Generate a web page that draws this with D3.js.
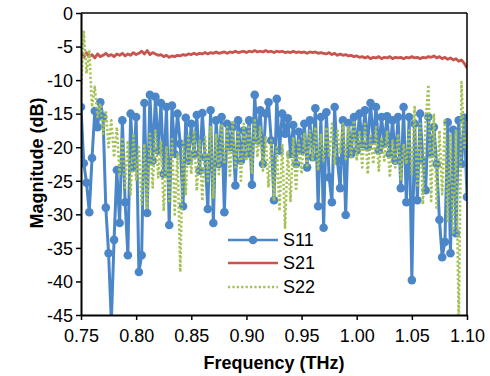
<!DOCTYPE html>
<html><head><meta charset="utf-8">
<script src="https://cdn.jsdelivr.net/npm/d3@7"></script>
<style>
html,body{margin:0;padding:0;background:#fff;}
text{font-family:"Liberation Sans",Arial,sans-serif;}
</style></head>
<body><svg id="chart" width="490" height="376"></svg>
<script>
const xTicks = [0.75, 0.80, 0.85, 0.90, 0.95, 1.00, 1.05, 1.10];
const yTicks = [0, -5, -10, -15, -20, -25, -30, -35, -40, -45];
const seriesNames = ["S11", "S21", "S22"];
const freqStart = 0.75, freqStep = 0.0025;

const s11 = [-14.0,-22.4,-25.3,-29.7,-21.6,-14.6,-17.0,-13.3,-15.5,-29.0,
-35.8,-46.0,-33.8,-23.4,-31.3,-16.0,-28.2,-36.1,-15.0,-23.0,
-15.5,-38.6,-36.1,-13.4,-29.8,-12.2,-22.0,-12.5,-20.5,-13.4,
-24.0,-14.0,-31.6,-13.8,-21.0,-15.0,-19.5,-28.8,-15.6,-22.0,
-16.5,-21.0,-15.2,-23.5,-14.9,-21.5,-29.2,-14.5,-31.3,-16.0,
-22.5,-15.5,-29.7,-16.5,-20.0,-17.0,-25.7,-16.0,-22.0,-17.5,
-21.0,-16.0,-25.6,-12.2,-19.0,-14.5,-22.5,-15.0,-13.3,-19.0,
-27.9,-12.8,-20.5,-15.0,-18.0,-15.7,-21.0,-16.7,-22.5,-17.7,
-20.5,-16.5,-23.0,-16.0,-21.5,-14.2,-28.8,-15.5,-32.0,-14.8,
-24.5,-28.2,-14.0,-22.0,-26.1,-16.0,-30.1,-16.4,-21.0,-15.5,
-20.5,-15.0,-19.5,-14.5,-20.0,-13.4,-19.0,-14.0,-20.5,-15.5,
-19.5,-15.4,-21.0,-16.0,-22.0,-15.5,-26.1,-14.0,-28.2,-15.5,
-39.8,-16.5,-27.9,-15.0,-22.0,-26.4,-15.5,-21.0,-17.0,-22.5,
-30.8,-36.4,-34.1,-16.3,-35.8,-17.4,-32.8,-16.0,-22.5,-15.6,
-27.4];

const s21 = [-6.0,-6.6,-5.9,-6.5,-6.2,-6.7,-6.1,-6.5,-6.3,-6.0,
-6.4,-6.2,-6.5,-6.1,-6.3,-6.0,-6.4,-6.1,-6.3,-5.9,
-6.2,-6.0,-5.7,-6.1,-5.6,-6.2,-5.9,-6.1,-6.3,-6.2,
-6.5,-6.3,-6.6,-6.4,-6.5,-6.3,-6.4,-6.2,-6.3,-6.1,
-6.2,-6.0,-6.2,-6.0,-6.1,-5.9,-6.1,-5.9,-6.0,-5.8,
-6.0,-5.9,-5.8,-6.0,-5.8,-5.9,-5.7,-5.9,-5.8,-5.7,
-5.9,-5.7,-5.8,-5.6,-5.8,-5.7,-5.8,-5.6,-5.8,-5.7,
-5.9,-5.7,-5.8,-5.7,-5.9,-5.8,-5.9,-5.7,-5.9,-5.8,
-5.9,-5.8,-6.0,-5.8,-5.9,-5.8,-6.0,-5.9,-6.0,-6.1,
-5.9,-6.2,-6.0,-6.3,-6.1,-6.3,-6.2,-6.4,-6.3,-6.5,
-6.4,-6.6,-6.5,-6.7,-6.5,-6.8,-6.6,-6.7,-6.5,-6.8,
-6.6,-6.7,-6.5,-6.8,-6.6,-6.7,-6.6,-6.8,-6.6,-6.7,
-6.5,-6.7,-6.6,-6.8,-6.6,-6.7,-6.5,-6.6,-6.4,-6.7,
-6.5,-6.8,-6.6,-6.9,-6.7,-7.0,-6.8,-7.2,-7.0,-7.5,
-8.2];

const s22 = [-12.0,-2.8,-9.0,-5.5,-14.0,-11.0,-15.5,-13.5,-18.0,-14.5,
-20.0,-16.0,-21.5,-17.0,-24.0,-18.5,-26.0,-19.0,-27.0,-18.0,
-25.0,-20.0,-28.5,-19.5,-29.0,-18.0,-26.0,-17.5,-24.5,-19.0,
-29.5,-20.0,-28.0,-18.5,-30.0,-21.0,-38.6,-19.0,-27.0,-18.0,
-24.0,-17.5,-26.5,-19.0,-28.0,-18.5,-25.0,-17.0,-27.5,-18.0,
-24.0,-16.5,-22.5,-17.0,-24.5,-16.0,-23.0,-17.5,-25.0,-16.5,
-22.0,-17.0,-24.0,-16.0,-21.5,-17.0,-23.5,-18.5,-26.0,-19.0,
-28.0,-20.0,-29.5,-19.5,-32.0,-20.5,-28.0,-18.5,-26.5,-19.0,
-24.0,-18.0,-23.0,-17.5,-22.0,-17.0,-23.5,-18.0,-22.0,-17.0,
-21.5,-16.5,-22.5,-17.5,-21.0,-16.5,-22.0,-17.0,-21.5,-16.0,
-22.0,-17.5,-23.0,-16.5,-24.0,-18.0,-22.5,-17.0,-23.5,-18.5,
-22.0,-17.5,-24.5,-19.0,-23.0,-18.0,-25.0,-19.5,-22.5,-17.5,
-24.0,-14.0,-26.0,-16.5,-28.5,-16.0,-10.7,-28.0,-15.0,-29.0,
-17.5,-27.0,-16.0,-31.0,-18.0,-33.0,-17.5,-47.0,-10.3,-20.0,
-18.0];

const colors = {S11:"#4a86c8", S21:"#c9534d", S22:"#a4c254"};

const svg = d3.select("#chart");
const m = {left:81, top:13, right:467, bottom:315};
const x = d3.scaleLinear().domain([0.75,1.10]).range([m.left,m.right]);
const y = d3.scaleLinear().domain([-45,0]).range([m.bottom,m.top]);
const freq = i => freqStart + i*freqStep;

svg.append("defs").append("clipPath").attr("id","clip")
  .append("rect").attr("x",m.left).attr("y",m.top)
  .attr("width",m.right-m.left).attr("height",m.bottom-m.top);

const plot = svg.append("g").attr("clip-path","url(#clip)");
const line = d3.line().x((d,i)=>x(freq(i))).y(d=>y(d));

plot.append("path").datum(s11).attr("d",line).attr("fill","none")
  .attr("stroke",colors.S11).attr("stroke-width",3).attr("stroke-linejoin","round");
plot.append("g").selectAll("circle").data(s11).join("circle")
  .attr("cx",(d,i)=>x(freq(i))).attr("cy",d=>y(d)).attr("r",4.3)
  .attr("fill",colors.S11);
plot.append("path").datum(s21).attr("d",line).attr("fill","none")
  .attr("stroke",colors.S21).attr("stroke-width",2.8).attr("stroke-linejoin","round");
plot.append("path").datum(s22).attr("d",line).attr("fill","none")
  .attr("stroke",colors.S22).attr("stroke-width",2.6)
  .attr("stroke-dasharray","2.2,2.2").attr("stroke-linejoin","round");

// frame top/right
svg.append("line").attr("x1",m.left).attr("x2",m.right).attr("y1",m.top).attr("y2",m.top)
  .attr("stroke","#000").attr("stroke-width",1.5);
svg.append("line").attr("x1",m.right).attr("x2",m.right).attr("y1",m.top).attr("y2",m.bottom)
  .attr("stroke","#000").attr("stroke-width",1.5);

const xAxis = svg.append("g").attr("transform",`translate(0,${m.bottom})`)
  .call(d3.axisBottom(x).tickValues(xTicks).tickFormat(d3.format(".2f")).tickSize(5).tickSizeOuter(0));
const yAxis = svg.append("g").attr("transform",`translate(${m.left},0)`)
  .call(d3.axisLeft(y).tickValues(yTicks).tickFormat(d=>String(d)).tickSize(5).tickSizeOuter(0));
[xAxis,yAxis].forEach(a=>{
  a.select(".domain").attr("stroke","#000").attr("stroke-width",2);
  a.selectAll(".tick line").attr("stroke","#000").attr("stroke-width",1.5);
  a.selectAll(".tick text").attr("font-size",18).attr("fill","#000")
   .attr("font-family","'Liberation Sans',Arial,sans-serif");
});
xAxis.selectAll(".tick text").attr("dy","0").attr("y",27);
yAxis.selectAll(".tick text").attr("x",-8).attr("dy","0.35em");

svg.append("text").attr("x",274).attr("y",369).attr("text-anchor","middle")
  .attr("font-size",18).attr("font-weight","bold").text("Frequency (THz)");
svg.append("text").attr("transform","translate(43,163) rotate(-90)").attr("text-anchor","middle")
  .attr("font-size",18).attr("font-weight","bold").text("Magnitude (dB)");

// legend
const lg = svg.append("g");
const legY = [240, 263, 287];
seriesNames.forEach((n,k)=>{
  const ln = lg.append("line").attr("x1",228).attr("x2",278).attr("y1",legY[k]).attr("y2",legY[k])
    .attr("stroke",colors[n]).attr("stroke-width",2.6);
  if(n==="S22") ln.attr("stroke-dasharray","2.2,2.2");
  if(n==="S11") lg.append("circle").attr("cx",253).attr("cy",legY[k]).attr("r",4.3).attr("fill",colors[n]);
  lg.append("text").attr("x",283).attr("y",legY[k]).attr("dy","0.36em").attr("font-size",18).text(n);
});
</script></body></html>
